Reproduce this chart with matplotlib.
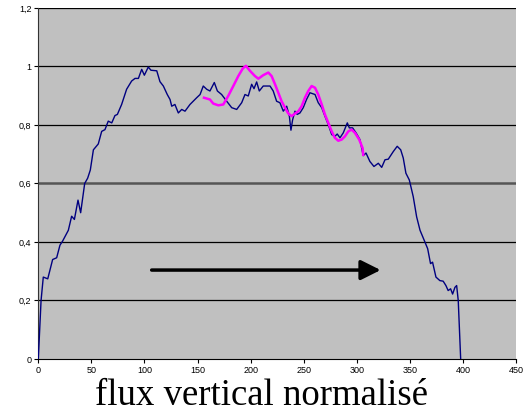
import matplotlib
matplotlib.use("Agg")
import matplotlib.pyplot as plt
import numpy as np

# profil complet (bleu)
x_full = [0, 2.6, 4.7, 8.9, 13.5, 17.3, 20.4, 22.9, 28.3, 31.4, 34.0, 37.4, 39.9,
          43.7, 46.5, 49.0, 51.9, 56.5, 59.7, 62.8, 65.9, 69.2, 72.2, 74.5, 78.5,
          83.2, 87.9, 91.1, 94.3, 97.4, 99.9, 103.6, 106.1, 111.6, 114.6, 117.8,
          121.5, 124.1, 125.7, 128.7, 131.9, 135.1, 138.2, 142.9, 149.2, 152.4,
          155.4, 158.6, 161.7, 165.8, 168.7, 172.7, 177.5, 182.2, 186.9, 191.6,
          194.7, 197.8, 201.0, 203.2, 205.7, 208.2, 211.9, 218.3, 221.3, 224.5,
          227.6, 230.8, 234.0, 236.5, 238.0, 239.6, 241.8, 243.9, 246.5, 249.6,
          252.7, 255.9, 260.7, 263.7, 267.0, 270.0, 273.2, 276.4, 279.4, 281.6,
          284.2, 287.3, 291.1, 293.0, 296.1, 299.3, 303.0, 306.1, 308.7, 312.4,
          316.2, 320.3, 323.5, 326.6, 329.7, 334.4, 338.1, 341.4, 343.8, 346.3,
          349.5, 353.2, 356.4, 359.6, 364.2, 366.8, 369.5, 371.4, 374.6, 378.3,
          381.4, 384.0, 386.1, 388.4, 390.3, 392.5, 394.1, 395.6, 397.9]
y_full = [0, 0.2, 0.28, 0.274, 0.34, 0.346, 0.389, 0.403, 0.44, 0.488, 0.477, 0.543,
          0.50, 0.60, 0.618, 0.646, 0.715, 0.735, 0.778, 0.784, 0.813, 0.807, 0.832,
          0.836, 0.87, 0.922, 0.95, 0.959, 0.959, 0.99, 0.97, 0.998, 0.987, 0.985,
          0.948, 0.933, 0.904, 0.887, 0.864, 0.87, 0.841, 0.853, 0.847, 0.87, 0.893,
          0.904, 0.933, 0.922, 0.916, 0.945, 0.916, 0.904, 0.881, 0.859, 0.853,
          0.876, 0.904, 0.899, 0.939, 0.924, 0.947, 0.916, 0.933, 0.933, 0.916,
          0.881, 0.876, 0.847, 0.864, 0.83, 0.782, 0.818, 0.847, 0.836, 0.841,
          0.859, 0.887, 0.91, 0.904, 0.876, 0.859, 0.83, 0.801, 0.767, 0.761, 0.769,
          0.756, 0.773, 0.807, 0.79, 0.79, 0.773, 0.75, 0.695, 0.704, 0.675, 0.658,
          0.669, 0.655, 0.681, 0.683, 0.709, 0.727, 0.715, 0.687, 0.635, 0.612,
          0.555, 0.486, 0.44, 0.40, 0.377, 0.326, 0.331, 0.28, 0.268, 0.266, 0.251,
          0.234, 0.24, 0.222, 0.245, 0.251, 0.2, 0]

# portion superposee (magenta)
x_part = [156.1, 161.7, 164.8, 169.6, 174.3, 178.9, 183.7, 188.4, 192.6, 195.6,
          199.4, 204.1, 207.3, 211.9, 216.7, 219.8, 223.0, 226.1, 229.2, 232.4,
          235.5, 238.7, 241.8, 245.0, 248.1, 251.2, 254.3, 257.5, 260.7, 263.7,
          267.0, 270.0, 273.2, 276.4, 279.4, 282.6, 285.8, 288.9, 292.0, 295.2,
          298.3, 302.3, 305.5, 306.1]
y_part = [0.893, 0.887, 0.873, 0.867, 0.870, 0.899, 0.933, 0.967, 0.993, 1.002,
          0.985, 0.967, 0.958, 0.970, 0.979, 0.967, 0.939, 0.910, 0.881, 0.859,
          0.839, 0.830, 0.839, 0.847, 0.864, 0.893, 0.916, 0.933, 0.927, 0.904,
          0.870, 0.836, 0.807, 0.778, 0.756, 0.746, 0.750, 0.761, 0.778, 0.784,
          0.773, 0.750, 0.721, 0.698]

x_ticks = [0, 50, 100, 150, 200, 250, 300, 350, 400, 450]
y_ticks = [0, 0.2, 0.4, 0.6, 0.8, 1.0, 1.2]
y_labels = ["0", "0,2", "0,4", "0,6", "0,8", "1", "1,2"]
arrow_start = (106.8, 0.304)
arrow_end = (322.5, 0.304)

fig = plt.figure(figsize=(5.29, 4.16), dpi=100)
ax = fig.add_axes([0.0724, 0.137, 0.9030, 0.844])
ax.set_facecolor("#c0c0c0")

for yv in y_ticks[1:]:
    if yv == 0.6:
        ax.axhline(yv, color="#555555", lw=1.8, zorder=1)
    else:
        ax.axhline(yv, color="black", lw=0.9, zorder=1)

ax.plot(x_full, y_full, color="#000080", lw=1.0, zorder=3)
ax.plot(x_part, y_part, color="#ff00ff", lw=1.8, zorder=4)

ax.annotate("", xy=arrow_end, xytext=arrow_start,
            arrowprops=dict(arrowstyle="-|>,head_length=0.6,head_width=0.3",
                            lw=2.5, color="black", mutation_scale=20,
                            shrinkA=0, shrinkB=0), zorder=5)

ax.set_xlim(0, 450)
ax.set_ylim(0, 1.2)
ax.set_xticks(x_ticks)
ax.set_yticks(y_ticks)
ax.set_yticklabels(y_labels)
for lab in ax.get_xticklabels() + ax.get_yticklabels():
    lab.set_fontfamily("Liberation Sans")
    lab.set_fontsize(6.5)
ax.tick_params(direction="out", length=3, width=0.8, pad=2)
for s in ["top", "right"]:
    ax.spines[s].set_visible(False)
ax.spines["left"].set_color("#333333")
ax.spines["bottom"].set_color("black")

fig.text(0.495, 0.026, "flux vertical normalisé", family="Liberation Serif",
         fontsize=26.5, ha="center", va="baseline")

fig.savefig("out.png", dpi=100)
